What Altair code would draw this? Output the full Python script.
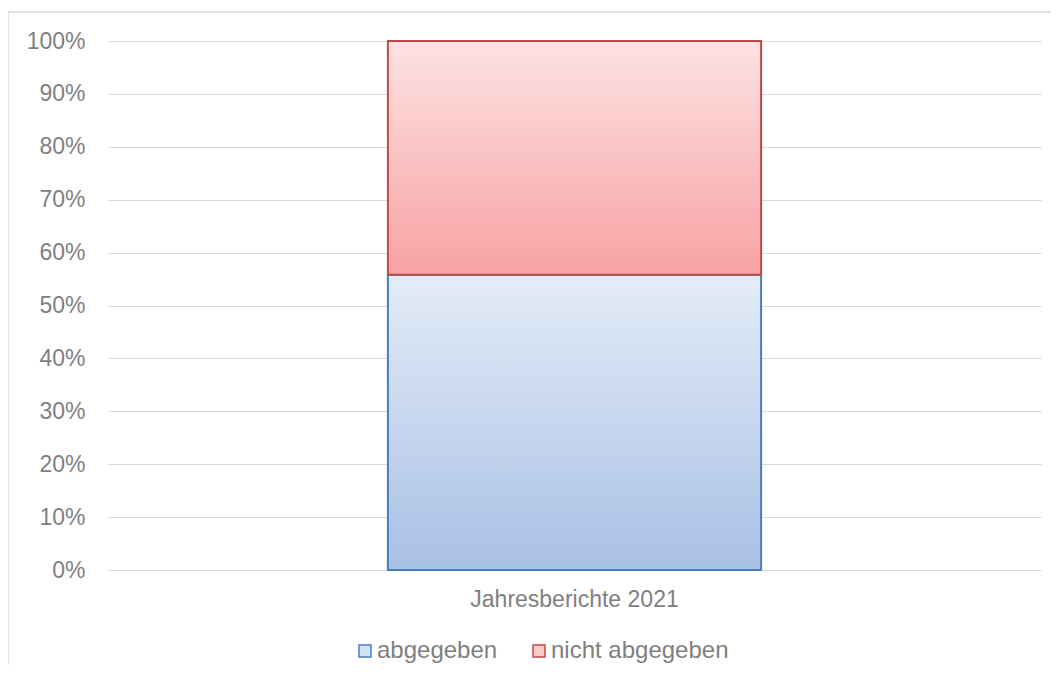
import altair as alt
import pandas as pd

categories = ["Jahresberichte 2021"]
series = ["abgegeben", "nicht abgegeben"]
values = [55.8, 44.2]
order = [1, 2]
y_ticks = [0, 0.1, 0.2, 0.3, 0.4, 0.5, 0.6, 0.7, 0.8, 0.9, 1.0]

df = pd.DataFrame({
    "category": [categories[0]] * len(series),
    "series": series,
    "value": values,
    "order": order,
})

FONT = "Liberation Sans"
GRAY = "#7f7f7f"
GRID = "#d9d9d9"

blue_grad = alt.LinearGradient(
    gradient="linear", x1=0, y1=0, x2=0, y2=1,
    stops=[alt.GradientStop(offset=0, color="#e4ecf7"),
           alt.GradientStop(offset=1, color="#a8c0e5")],
)
red_grad = alt.LinearGradient(
    gradient="linear", x1=0, y1=0, x2=0, y2=1,
    stops=[alt.GradientStop(offset=0, color="#fde2e3"),
           alt.GradientStop(offset=1, color="#f7a2a3")],
)

base = alt.Chart(df).transform_stack(
    stack="value", groupby=["category"], as_=["y0", "y1"],
    sort=[alt.SortField("order", order="ascending")], offset="normalize",
)

x_enc = alt.X(
    "category:N", title=None,
    scale=alt.Scale(paddingInner=0, paddingOuter=0.75),
    axis=alt.Axis(labelAngle=0, labelAlign="center", labelFlush=False,
                  labelFontSize=23, labelColor=GRAY, labelFont=FONT,
                  domain=False, ticks=False, labelPadding=29, grid=False, labelLimit=0),
)
y_enc = alt.Y(
    "y0:Q", title=None,
    scale=alt.Scale(domain=[0, 1], nice=False),
    axis=alt.Axis(values=y_ticks, format=".0%", labelFontSize=23, labelColor=GRAY,
                  labelFont=FONT, domain=False, ticks=False, labelPadding=23,
                  grid=True, gridColor=GRID, gridWidth=1),
)

bar_a = base.transform_filter(alt.datum.series == series[0]).mark_bar(
    fill=blue_grad, stroke="#4a7ebb", strokeWidth=2
).encode(x=x_enc, y=y_enc, y2="y1:Q")

bar_b = base.transform_filter(alt.datum.series == series[1]).mark_bar(
    fill=red_grad, stroke="#be4b48", strokeWidth=2
).encode(x=x_enc, y=y_enc, y2="y1:Q")

legend_def = alt.Legend(
    title=None, orient="none", legendX=245, legendY=598, direction="horizontal",
    labelFontSize=24, labelColor=GRAY, labelFont=FONT, symbolType="square",
    symbolSize=144, symbolStrokeWidth=1.5, symbolOpacity=1, labelOffset=0,
    columnPadding=29, symbolOffset=0, labelLimit=0,
)

legend_layer = alt.Chart(df).mark_square(opacity=0).encode(
    x=alt.X("category:N"),
    y=alt.Y("y0:Q"),
    fill=alt.Fill("series:N", scale=alt.Scale(domain=series, range=["#d3e0f2", "#fbc9ca"]),
                  legend=legend_def, sort=series),
    stroke=alt.Stroke("series:N", scale=alt.Scale(domain=series, range=["#4a7ebb", "#be4b48"]),
                      legend=legend_def, sort=series),
).transform_calculate(y0="0.3")

border = alt.Chart(alt.Data(values=[{}])).mark_rect(
    fill=None, stroke=GRID, strokeWidth=1.5
).encode(x=alt.value(-100), x2=alt.value(1000), y=alt.value(-29), y2=alt.value(700))

chart = alt.layer(border, legend_layer, bar_a, bar_b).properties(
    width=933, height=529,
    padding={"left": 100, "top": 33, "right": 10, "bottom": 95},
    autosize=alt.AutoSizeParams(type="none"),
).configure(
    background="white",
    view=alt.ViewConfig(strokeWidth=0, stroke="transparent"),
)

chart.save("out.html", embed_options={"renderer": "svg", "actions": False})
